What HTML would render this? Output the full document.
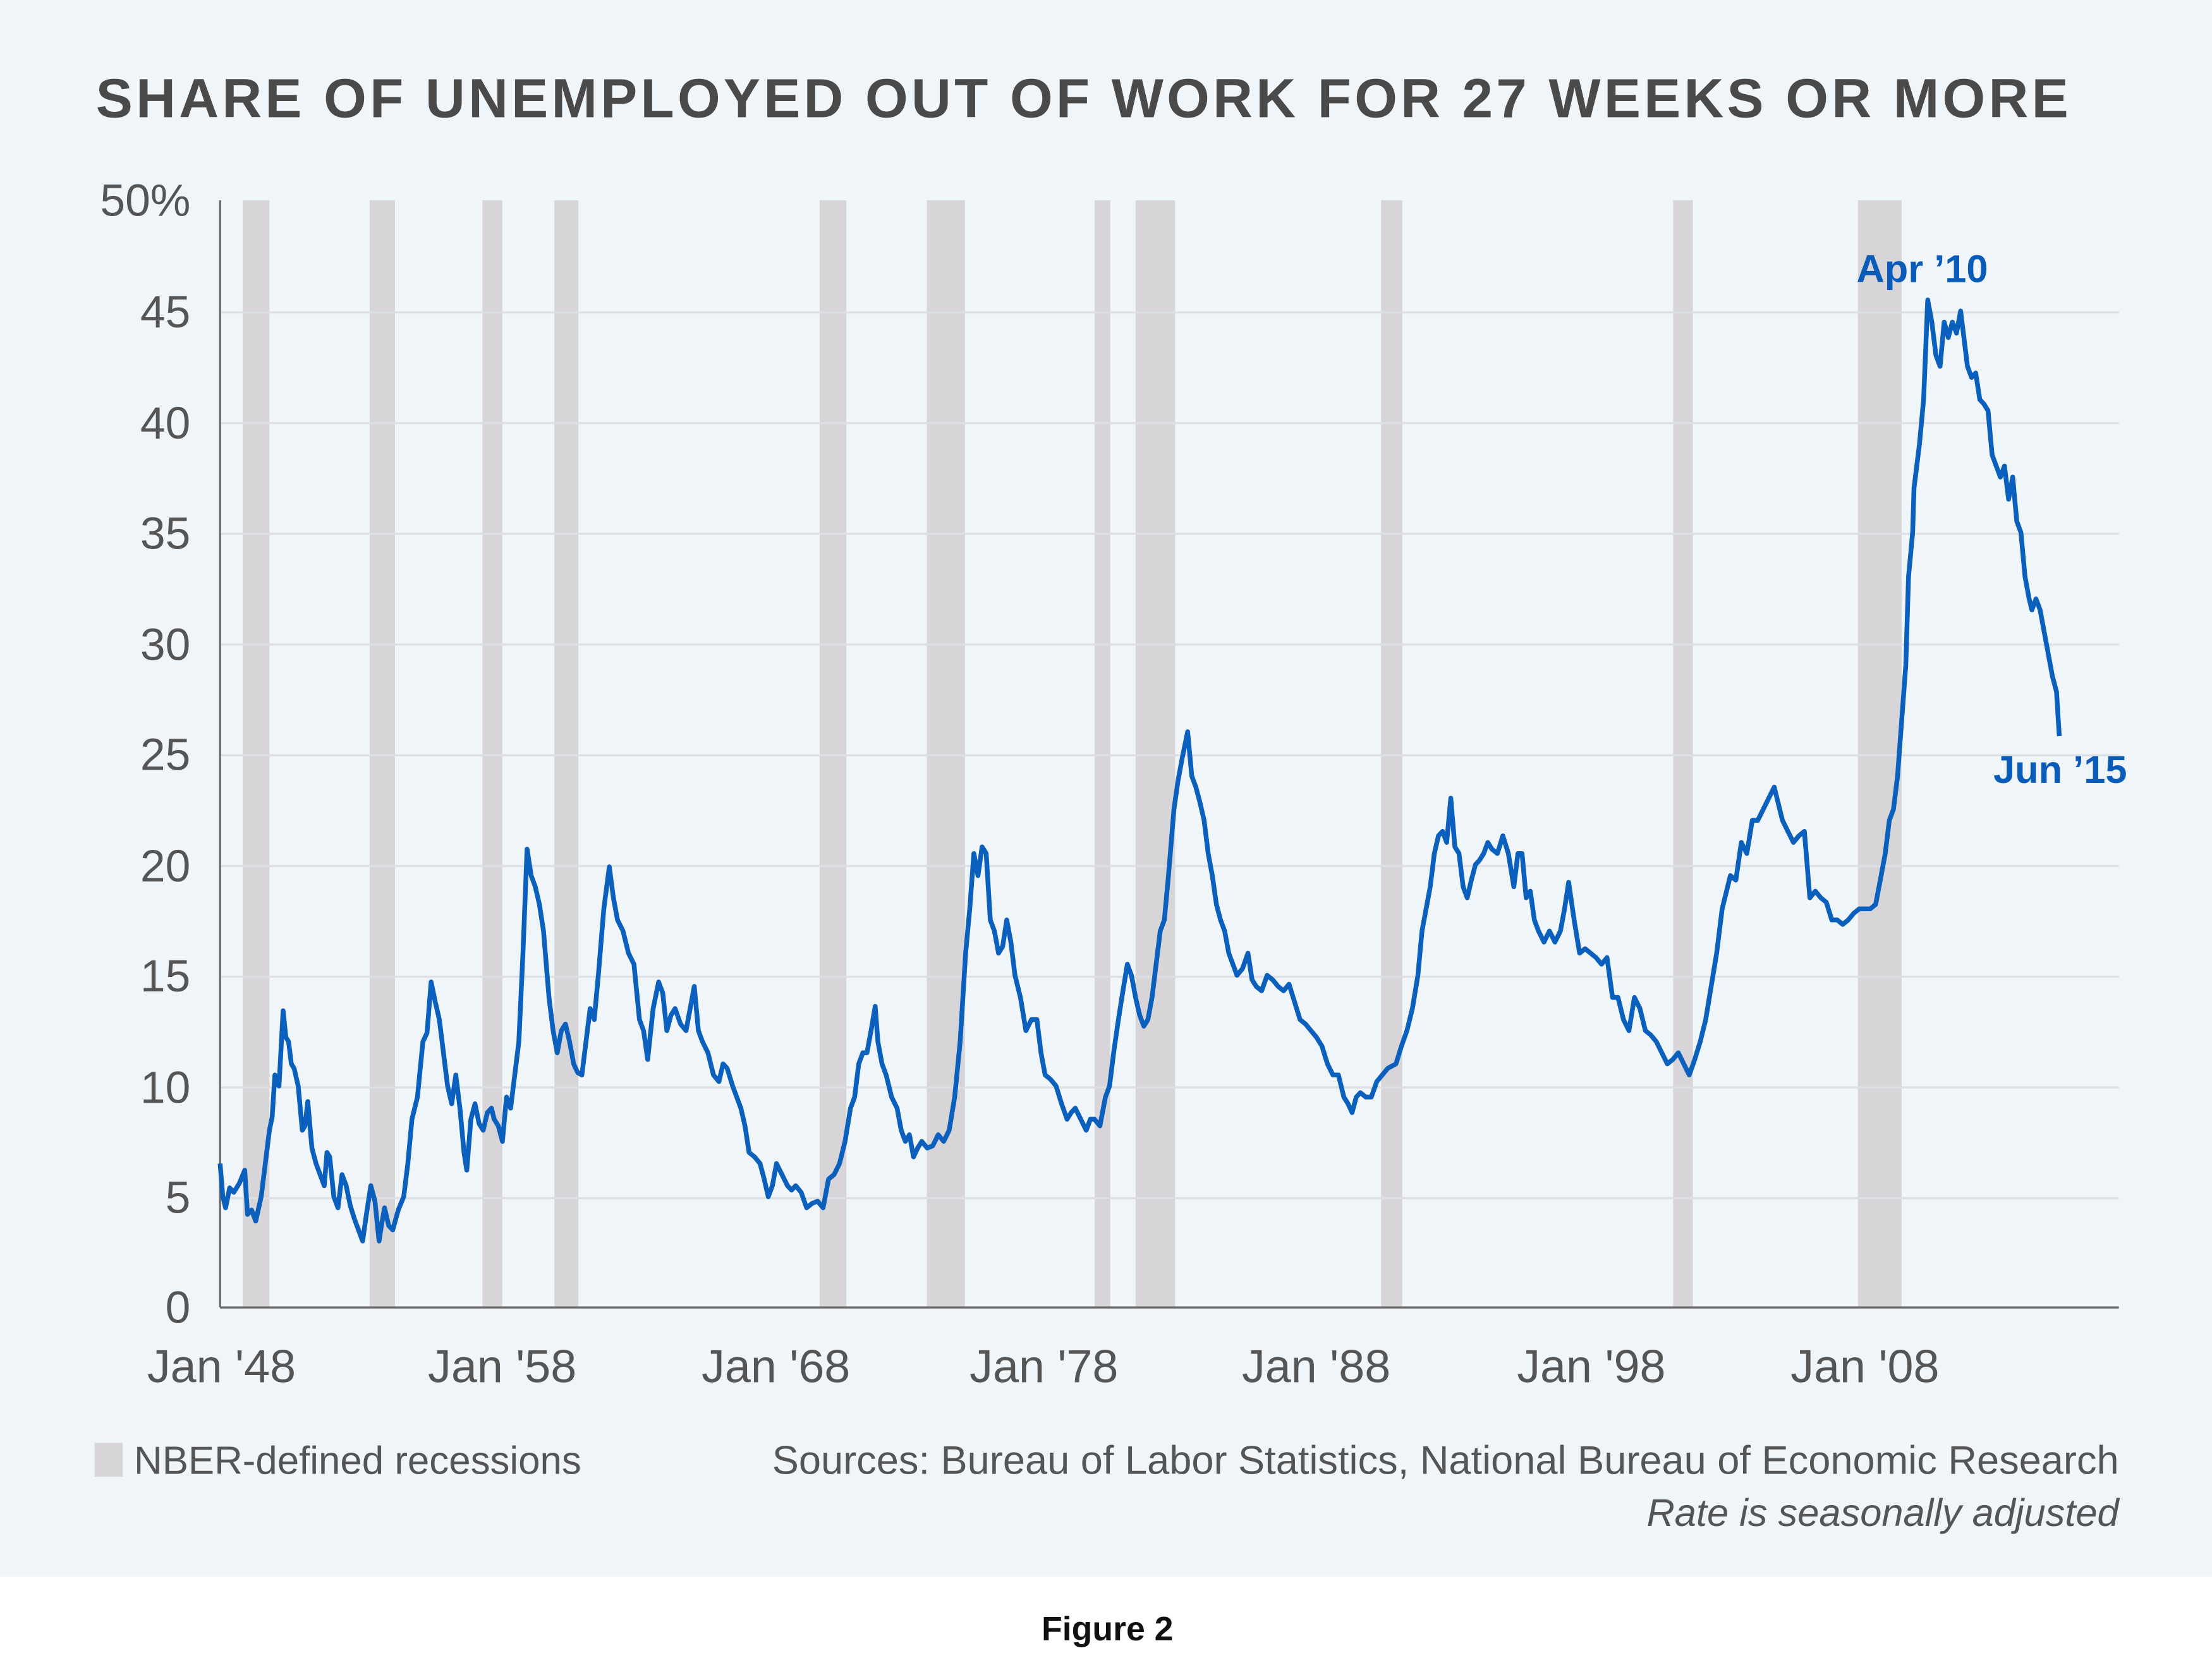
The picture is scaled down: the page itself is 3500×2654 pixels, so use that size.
<!DOCTYPE html>
<html><head><meta charset="utf-8"><style>
html,body{margin:0;padding:0;background:#fff}
svg{display:block}
text{font-family:"Liberation Sans",sans-serif}
</style></head><body>
<svg width="3500" height="2654" viewBox="0 0 1568 1189" xmlns="http://www.w3.org/2000/svg">
<rect x="0" y="0" width="1568" height="1118" fill="#f0f5fa"/>
<text x="68" y="83" font-size="39" font-weight="bold" fill="#4a4a4a" letter-spacing="2.35">SHARE OF UNEMPLOYED OUT OF WORK FOR 27 WEEKS OR MORE</text>
<g fill="#d7d5d8">
<rect x="172" y="142" width="19" height="785"/>
<rect x="262" y="142" width="18" height="785"/>
<rect x="342" y="142" width="14" height="785"/>
<rect x="393" y="142" width="17" height="785"/>
<rect x="581" y="142" width="19" height="785"/>
<rect x="657" y="142" width="27" height="785"/>
<rect x="776" y="142" width="11" height="785"/>
<rect x="805" y="142" width="28" height="785"/>
<rect x="979" y="142" width="15" height="785"/>
<rect x="1186" y="142" width="14" height="785"/>
<rect x="1317" y="142" width="31" height="785"/>
</g>
<g stroke="#dcdfe3" stroke-width="1.5">
<line x1="156" x2="1502" y1="849.5" y2="849.5"/>
<line x1="156" x2="1502" y1="771" y2="771"/>
<line x1="156" x2="1502" y1="692.5" y2="692.5"/>
<line x1="156" x2="1502" y1="614" y2="614"/>
<line x1="156" x2="1502" y1="535.5" y2="535.5"/>
<line x1="156" x2="1502" y1="457" y2="457"/>
<line x1="156" x2="1502" y1="378.5" y2="378.5"/>
<line x1="156" x2="1502" y1="300" y2="300"/>
<line x1="156" x2="1502" y1="221.5" y2="221.5"/>
</g>
<g stroke="#6b6b6b" stroke-width="1.5">
<line x1="156" x2="156" y1="142" y2="927"/>
<line x1="156" x2="1502" y1="927" y2="927"/>
</g>
<g font-size="32" fill="#555" text-anchor="end">
<text x="135" y="153">50%</text>
<text x="135" y="232">45</text>
<text x="135" y="311">40</text>
<text x="135" y="389">35</text>
<text x="135" y="468">30</text>
<text x="135" y="546">25</text>
<text x="135" y="625">20</text>
<text x="135" y="703">15</text>
<text x="135" y="782">10</text>
<text x="135" y="860">5</text>
<text x="135" y="938">0</text>
</g>
<g font-size="33" fill="#555" text-anchor="middle">
<text x="157" y="980">Jan '48</text>
<text x="356" y="980">Jan '58</text>
<text x="550" y="980">Jan '68</text>
<text x="740" y="980">Jan '78</text>
<text x="933" y="980">Jan '88</text>
<text x="1128" y="980">Jan '98</text>
<text x="1322" y="980">Jan '08</text>
</g>
<g transform="translate(156,927) scale(19.43,-15.7)">
<polyline fill="none" stroke="#0b5fbd" stroke-width="7.5" vector-effect="non-scaling-stroke" stroke-linejoin="round" points="0,6.5 0.1,5 0.2,4.5 0.35,5.4 0.5,5.2 0.7,5.6 0.9,6.2 1.0,4.2 1.15,4.4 1.3,3.9 1.5,5 1.65,6.5 1.8,8 1.9,8.6 2.0,10.5 2.15,10 2.3,13.4 2.4,12.2 2.5,12 2.6,11 2.7,10.8 2.85,10 3.0,8 3.1,8.2 3.2,9.3 3.35,7.2 3.5,6.5 3.65,6 3.8,5.5 3.9,7 4.0,6.8 4.15,5 4.3,4.5 4.45,6 4.6,5.5 4.75,4.6 4.9,4 5.05,3.5 5.2,3.0 5.35,4.3 5.5,5.5 5.65,4.8 5.8,3.0 5.9,3.8 6.0,4.5 6.15,3.7 6.3,3.5 6.5,4.4 6.7,5 6.85,6.5 7.0,8.5 7.2,9.5 7.4,12 7.55,12.4 7.7,14.7 7.85,13.8 8.0,13 8.15,11.5 8.3,10 8.45,9.2 8.6,10.5 8.75,9 8.9,7 9.0,6.2 9.15,8.5 9.3,9.2 9.45,8.3 9.6,8 9.75,8.8 9.9,9 10.0,8.5 10.15,8.2 10.3,7.5 10.45,9.5 10.6,9 10.75,10.5 10.9,12 11.05,16 11.2,20.7 11.35,19.5 11.5,19 11.65,18.2 11.8,17 11.9,15.5 12.0,14 12.15,12.5 12.3,11.5 12.45,12.5 12.6,12.8 12.75,12 12.9,11 13.05,10.6 13.2,10.5 13.35,12 13.5,13.5 13.65,13 13.8,15 13.9,16.5 14.0,18 14.2,19.9 14.35,18.5 14.5,17.5 14.7,17 14.9,16 15.1,15.5 15.3,13 15.45,12.5 15.6,11.2 15.8,13.5 16.0,14.7 16.15,14.2 16.3,12.5 16.45,13.2 16.6,13.5 16.8,12.8 17.0,12.5 17.15,13.5 17.3,14.5 17.45,12.5 17.6,12 17.8,11.5 18.0,10.5 18.2,10.2 18.35,11 18.5,10.8 18.7,10 19.0,9 19.15,8.2 19.3,7 19.5,6.8 19.7,6.5 19.85,5.8 20.0,5 20.15,5.5 20.3,6.5 20.5,6 20.7,5.5 20.85,5.3 21.0,5.5 21.2,5.2 21.4,4.5 21.6,4.7 21.8,4.8 22.0,4.5 22.2,5.8 22.4,6 22.6,6.5 22.8,7.5 23.0,9 23.15,9.5 23.3,11 23.45,11.5 23.6,11.5 23.75,12.5 23.9,13.6 24.0,12 24.15,11 24.3,10.5 24.5,9.5 24.7,9 24.85,8 25.0,7.5 25.15,7.8 25.3,6.8 25.45,7.2 25.6,7.5 25.8,7.2 26.0,7.3 26.2,7.8 26.4,7.5 26.6,8 26.8,9.5 27.0,12 27.2,16 27.35,18 27.5,20.5 27.65,19.5 27.8,20.8 27.95,20.5 28.1,17.5 28.25,17 28.4,16 28.55,16.3 28.7,17.5 28.85,16.5 29.0,15 29.2,14 29.4,12.5 29.6,13 29.8,13 29.95,11.5 30.1,10.5 30.3,10.3 30.5,10 30.7,9.2 30.9,8.5 31.05,8.8 31.2,9 31.4,8.5 31.6,8 31.75,8.5 31.9,8.5 32.1,8.2 32.3,9.5 32.45,10 32.6,11.5 32.75,12.8 32.9,14 33.1,15.5 33.25,15 33.4,14 33.55,13.2 33.7,12.7 33.85,13 34.0,14 34.15,15.5 34.3,17 34.45,17.5 34.6,19.5 34.7,21 34.8,22.5 34.95,23.8 35.1,24.8 35.3,26 35.45,24 35.6,23.5 35.75,22.8 35.9,22 36.05,20.5 36.2,19.5 36.35,18.2 36.5,17.5 36.65,17 36.8,16 36.95,15.5 37.1,15 37.3,15.3 37.5,16 37.65,14.8 37.8,14.5 38.0,14.3 38.2,15 38.4,14.8 38.6,14.5 38.8,14.3 39.0,14.6 39.2,13.8 39.4,13 39.6,12.8 39.8,12.5 40.0,12.2 40.2,11.8 40.4,11 40.6,10.5 40.8,10.5 41.0,9.5 41.15,9.2 41.3,8.8 41.45,9.5 41.6,9.7 41.8,9.5 42.0,9.5 42.2,10.2 42.4,10.5 42.6,10.8 42.9,11 43.1,11.8 43.3,12.5 43.5,13.5 43.7,15 43.85,17 44.0,18 44.15,19 44.3,20.5 44.45,21.3 44.6,21.5 44.75,21 44.9,23 45.05,20.8 45.2,20.5 45.35,19 45.5,18.5 45.65,19.3 45.8,20 45.95,20.2 46.1,20.5 46.25,21 46.4,20.7 46.6,20.5 46.8,21.3 47.0,20.5 47.2,19 47.35,20.5 47.5,20.5 47.65,18.5 47.8,18.8 47.95,17.5 48.1,17 48.3,16.5 48.5,17 48.7,16.5 48.9,17 49.05,18 49.2,19.2 49.4,17.5 49.6,16 49.8,16.2 50.0,16 50.2,15.8 50.4,15.5 50.6,15.8 50.8,14 51.0,14 51.2,13 51.4,12.5 51.6,14 51.8,13.5 52.0,12.5 52.2,12.3 52.4,12 52.6,11.5 52.8,11 53.0,11.2 53.2,11.5 53.4,11 53.6,10.5 53.8,11.2 54.0,12 54.2,13 54.4,14.5 54.6,16 54.8,18 55.0,19 55.1,19.5 55.3,19.3 55.5,21 55.7,20.5 55.9,22 56.1,22 56.3,22.5 56.5,23 56.7,23.5 56.9,22.5 57.0,22 57.2,21.5 57.4,21 57.6,21.3 57.8,21.5 58.0,18.5 58.2,18.8 58.4,18.5 58.6,18.3 58.8,17.5 59.0,17.5 59.2,17.3 59.4,17.5 59.6,17.8 59.8,18 60.0,18 60.2,18 60.4,18.2 60.6,19.5 60.75,20.5 60.9,22 61.05,22.5 61.2,24 61.35,26.5 61.5,29 61.6,33 61.75,35 61.8,37 62.0,39 62.15,41 62.3,45.5 62.45,44.5 62.6,43 62.75,42.5 62.9,44.5 63.05,43.8 63.2,44.5 63.35,44 63.5,45 63.65,43.5 63.75,42.5 63.9,42 64.05,42.2 64.2,41 64.35,40.8 64.5,40.5 64.65,38.5 64.8,38 64.95,37.5 65.1,38 65.25,36.5 65.4,37.5 65.55,35.5 65.7,35 65.85,33 66.0,32 66.1,31.5 66.25,32 66.4,31.5 66.55,30.5 66.7,29.5 66.85,28.5 67.0,27.8 67.1,25.8"/>
</g>
<g font-size="27.5" font-weight="bold" fill="#0a5cb8">
<text x="1316" y="200">Apr ’10</text>
<text x="1413" y="555">Jun ’15</text>
</g>
<rect x="67" y="1023" width="20" height="24" fill="#d7d5d8"/>
<text x="95" y="1045" font-size="27.7" fill="#555">NBER-defined recessions</text>
<text x="1502" y="1045" font-size="28.3" fill="#555" text-anchor="end">Sources: Bureau of Labor Statistics, National Bureau of Economic Research</text>
<text x="1502" y="1082" font-size="27.5" fill="#555" text-anchor="end" font-style="italic">Rate is seasonally adjusted</text>
<text x="785" y="1163" font-size="24" font-weight="bold" fill="#111" text-anchor="middle">Figure 2</text>
</svg>
</body></html>
